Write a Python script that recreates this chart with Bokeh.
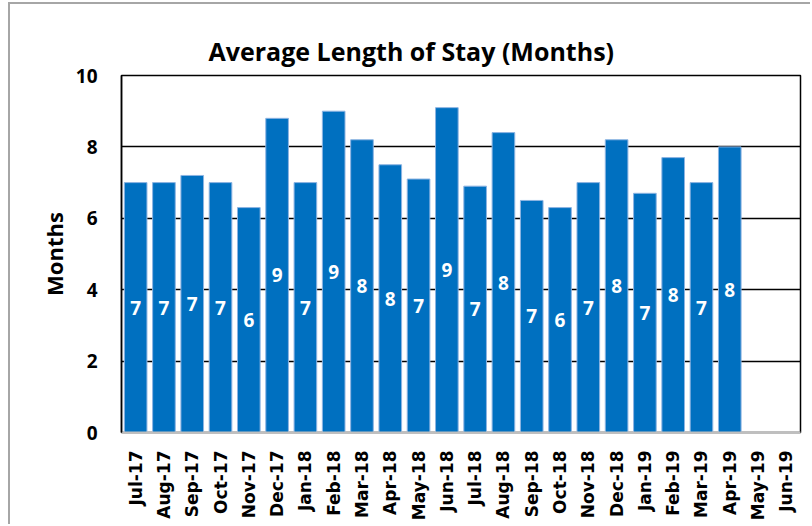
import math
from bokeh.plotting import figure
from bokeh.models import ColumnDataSource, Range1d, FactorRange
from bokeh.embed import file_html
from bokeh.resources import INLINE

months = ["Jul-17", "Aug-17", "Sep-17", "Oct-17", "Nov-17", "Dec-17", "Jan-18", "Feb-18",
          "Mar-18", "Apr-18", "May-18", "Jun-18", "Jul-18", "Aug-18", "Sep-18", "Oct-18",
          "Nov-18", "Dec-18", "Jan-19", "Feb-19", "Mar-19", "Apr-19", "May-19", "Jun-19"]
stay_months = [7.0, 7.0, 7.2, 7.0, 6.3, 8.8, 7.0, 9.0, 8.2, 7.5, 7.1, 9.1,
               6.9, 8.4, 6.5, 6.3, 7.0, 8.2, 6.7, 7.7, 7.0, 8.0]
y_ticks = [0, 2, 4, 6, 8, 10]

cats = months[:len(stay_months)]
labels = [str(int(math.floor(v + 0.5))) for v in stay_months]
src = ColumnDataSource(dict(x=cats, top=stay_months, mid=[v / 2 for v in stay_months], lab=labels))

p = figure(x_range=FactorRange(*months), y_range=Range1d(0, 10),
           width=802, height=522, output_backend="svg", toolbar_location=None,
           min_border_left=111, min_border_right=12, min_border_top=71, min_border_bottom=94)

p.styles = {"margin-left": "8px", "margin-top": "2px",
            "border-left": "2px solid #A6A6A6", "border-top": "2px solid #A6A6A6"}

p.title.text = "Average Length of Stay (Months)"
p.title.text_font = "Open Sans"
p.title.text_font_style = "bold"
p.title.text_font_size = "25px"
p.title.text_color = "black"
p.title.align = "left"
p.title.offset = 87
p.title.standoff = 16

p.vbar(x="x", top="top", width=0.8, source=src, fill_color="#0070C0",
       line_color="#8DB4E2", line_width=1)
p.text(x="x", y="mid", text="lab", source=src, text_color="white",
       text_font_style="bold", text_font_size="19px", text_align="center",
       text_baseline="middle", text_font={"value": "Open Sans"})

p.outline_line_color = "black"
p.outline_line_width = 1.5
p.xgrid.grid_line_color = None
p.ygrid.grid_line_color = "black"
p.ygrid.grid_line_width = 1.5
p.yaxis.ticker = y_ticks

p.yaxis.axis_label = "Months"
p.yaxis.axis_label_text_font = "Open Sans"
p.yaxis.axis_label_text_font_style = "bold"
p.yaxis.axis_label_text_font_size = "22px"
p.yaxis.axis_label_text_color = "black"
p.yaxis.axis_label_standoff = 4
p.yaxis.major_label_text_font = "Open Sans"
p.yaxis.major_label_text_font_style = "bold"
p.yaxis.major_label_text_font_size = "19px"
p.yaxis.major_label_text_color = "black"
p.yaxis.major_label_standoff = 18
p.yaxis.major_tick_line_color = None
p.yaxis.minor_tick_line_color = None
p.yaxis.axis_line_color = "black"
p.yaxis.axis_line_width = 1.5

p.xaxis.major_label_orientation = math.pi / 2
p.xaxis.major_label_text_font = "DejaVu Sans"
p.xaxis.major_label_text_font_style = "bold"
p.xaxis.major_label_text_font_size = "17px"
p.xaxis.major_label_text_color = "black"
p.xaxis.major_label_standoff = 12
p.xaxis.major_tick_line_color = None
p.xaxis.axis_line_color = "#BFBFBF"
p.xaxis.axis_line_width = 2

open("out.html", "w").write(file_html(p, INLINE))
